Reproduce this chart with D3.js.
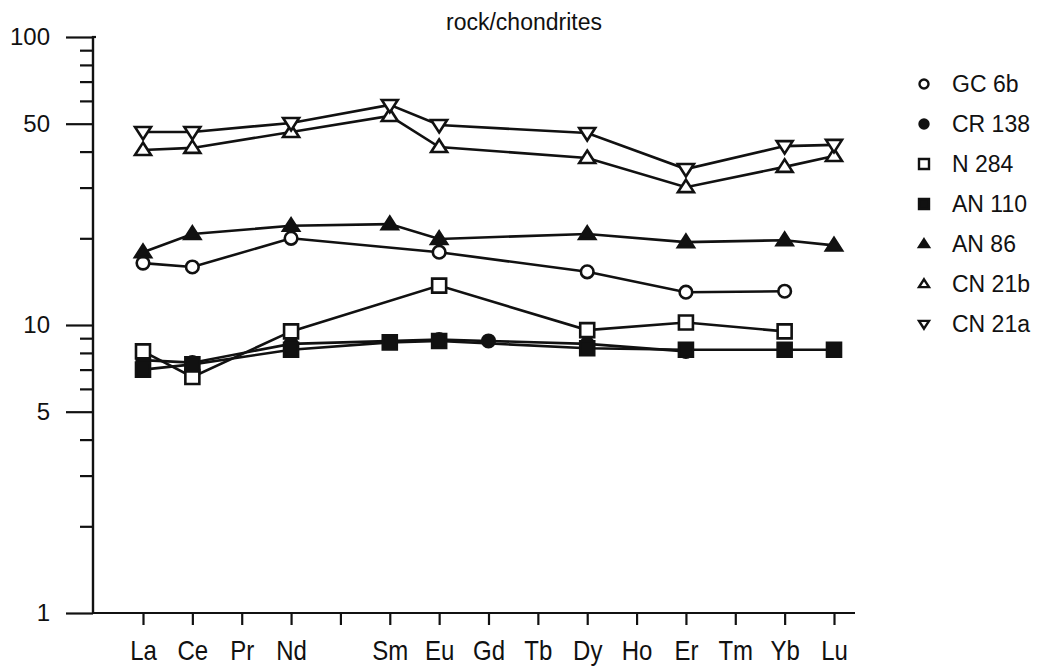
<!DOCTYPE html>
<html>
<head>
<meta charset="utf-8">
<script src="https://cdn.jsdelivr.net/npm/d3@7"></script>
<style>
  body { margin: 0; background: #fff; }
  text { font-family: "Liberation Sans", Arial, Helvetica, sans-serif; fill: #111; }
</style>
</head>
<body>
<svg id="chart" width="1045" height="666"></svg>
<script>
// Rare earth elements in atomic order (Pm has no analysis and no label)
const elements = ["La","Ce","Pr","Nd","Pm","Sm","Eu","Gd","Tb","Dy","Ho","Er","Tm","Yb","Lu"];
const elementLabels = ["La","Ce","Pr","Nd","","Sm","Eu","Gd","Tb","Dy","Ho","Er","Tm","Yb","Lu"];

// Log axis ticks
const yLabelledTicks = [1, 5, 10, 50, 100];
const yMinorTicks = [2, 3, 4, 6, 7, 8, 9, 20, 30, 40, 60, 70, 80, 90];

// Sample names and their marker styles
const sampleNames = ["GC 6b", "CR 138", "N 284", "AN 110", "AN 86", "CN 21b", "CN 21a"];
const sampleMarkers = ["circleOpen", "circleFilled", "squareOpen", "squareFilled", "triUpFilled", "triUpOpen", "triDownOpen"];

// Chondrite-normalised abundances, La..Lu (null = not determined)
const gc6b  = [16.4, 15.9, null, 20.0, null, null, 17.9, null, null, 15.3, null, 13.0, null, 13.1, null];
const cr138 = [7.55, 7.4,  null, 8.6,  null, null, 8.9,  8.8,  null, 8.6,  null, 8.1,  null, null, null];
const n284  = [8.1,  6.6,  null, 9.5,  null, null, 13.7, null, null, 9.6,  null, 10.2, null, 9.5,  null];
const an110 = [7.0,  7.3,  null, 8.2,  null, 8.7,  8.8,  null, null, 8.3,  null, 8.2,  null, 8.2,  8.2];
const an86  = [17.9, 20.7, null, 22.1, null, 22.4, 19.9, null, null, 20.7, null, 19.4, null, 19.7, 18.9];
const cn21b = [40.5, 41.2, null, 46.8, null, 53.2, 41.5, null, null, 38.0, null, 30.1, null, 35.4, 38.6];
const cn21a = [46.8, 46.8, null, 50.3, null, 58.1, 49.5, null, null, 46.4, null, 34.8, null, 41.8, 42.2];

const sampleValues = [gc6b, cr138, n284, an110, an86, cn21b, cn21a];

const svg = d3.select("#chart");

const x = d3.scalePoint().domain(elements).range([143, 834]);
const y = d3.scaleLog().domain([1, 100]).range([613, 37]);

// Marker shapes (path strings centred on 0,0)
function markerPath(kind, s) {
  const h = s / 2;
  if (kind.startsWith("circle")) {
    const p = d3.path(); p.arc(0, 0, h * 0.9, 0, 2 * Math.PI); return p.toString();
  }
  if (kind.startsWith("square")) {
    return `M${-h},${-h}H${h}V${h}H${-h}Z`;
  }
  const th = s * 0.78;
  if (kind.startsWith("triUp")) {
    return `M0,${-th * 0.6}L${h},${th * 0.4}L${-h},${th * 0.4}Z`;
  }
  return `M0,${th * 0.6}L${h},${-th * 0.4}L${-h},${-th * 0.4}Z`;
}
function isFilled(kind) { return kind.endsWith("Filled"); }

// Title
svg.append("text")
  .attr("x", 524).attr("y", 22)
  .attr("text-anchor", "middle").attr("dominant-baseline", "central")
  .style("font-size", "23px")
  .text("rock/chondrites");

// Y axis: labelled ticks long, minor ticks short
const yAxisMajor = d3.axisLeft(y).tickValues(yLabelledTicks).tickSize(27).tickPadding(16)
  .tickFormat(d3.format("d"));
const yAxisMinor = d3.axisLeft(y).tickValues(yMinorTicks).tickSize(13).tickFormat("");

const gY = svg.append("g").attr("transform", "translate(93,0)");
gY.call(yAxisMajor);
gY.append("g").call(yAxisMinor);
gY.selectAll(".domain").remove();
gY.selectAll("line").attr("stroke", "#111").attr("stroke-width", 2.2);
gY.selectAll("text").style("font-size", "24px").attr("fill", "#111")
  .style("font-family", "\"Liberation Sans\", Arial, sans-serif");
gY.append("line").attr("x1", 0).attr("x2", 0).attr("y1", y(100) - 1).attr("y2", y(1) + 1)
  .attr("stroke", "#111").attr("stroke-width", 2.4);
gY.append("line").attr("x1", -1).attr("x2", 3).attr("y1", y(100)).attr("y2", y(100))
  .attr("stroke", "#111").attr("stroke-width", 2.2);

// X axis baseline with element ticks hanging below
const gX = svg.append("g").attr("transform", `translate(0,${y(1)})`);
gX.append("line").attr("x1", 92).attr("x2", 855).attr("y1", 0).attr("y2", 0)
  .attr("stroke", "#111").attr("stroke-width", 2.4);
const xAxis = d3.axisBottom(x).tickSize(12).tickPadding(0)
  .tickFormat((d, i) => elementLabels[i]);
gX.call(xAxis);
gX.selectAll(".domain").remove();
gX.selectAll("line").attr("stroke", "#111").attr("stroke-width", 2.2);
gX.selectAll(".tick text")
  .attr("y", 0).attr("dy", null)
  .attr("transform", "translate(0,47) scale(1,1.15)")
  .attr("fill", "#111")
  .style("font-size", "24px")
  .style("font-family", "\"Liberation Sans\", Arial, sans-serif");

// Sample curves
const line = d3.line().x(d => x(d.el)).y(d => y(d.v));
const gSeries = svg.append("g");
sampleValues.forEach((vals, i) => {
  const pts = elements.map((el, j) => ({ el, v: vals[j] })).filter(d => d.v != null);
  gSeries.append("path")
    .datum(pts)
    .attr("d", line)
    .attr("fill", "none")
    .attr("stroke", "#111")
    .attr("stroke-width", 2.6);
});

// Sample markers
sampleValues.forEach((vals, i) => {
  const kind = sampleMarkers[i];
  const pts = elements.map((el, j) => ({ el, v: vals[j] })).filter(d => d.v != null);
  const size = kind.startsWith("circle") ? 14 : (kind.startsWith("square") ? 14 : 16);
  gSeries.append("g").selectAll("path")
    .data(pts)
    .join("path")
    .attr("transform", d => `translate(${x(d.el)},${y(d.v)})`)
    .attr("d", markerPath(kind, size))
    .attr("fill", isFilled(kind) ? "#111" : "#fff")
    .attr("stroke", "#111")
    .attr("stroke-width", 2.6);
});

// Legend
const legend = svg.append("g");
sampleNames.forEach((name, i) => {
  const ly = 84 + i * 40;
  const kind = sampleMarkers[i];
  const size = kind.startsWith("circle") ? 10 : 10;
  legend.append("path")
    .attr("transform", `translate(924,${ly})`)
    .attr("d", markerPath(kind, size))
    .attr("fill", isFilled(kind) ? "#111" : "#fff")
    .attr("stroke", "#111")
    .attr("stroke-width", 2.4);
  legend.append("text")
    .attr("x", 952).attr("y", ly)
    .attr("dominant-baseline", "central")
    .style("font-size", "23px")
    .text(name);
});
</script>
</body>
</html>
